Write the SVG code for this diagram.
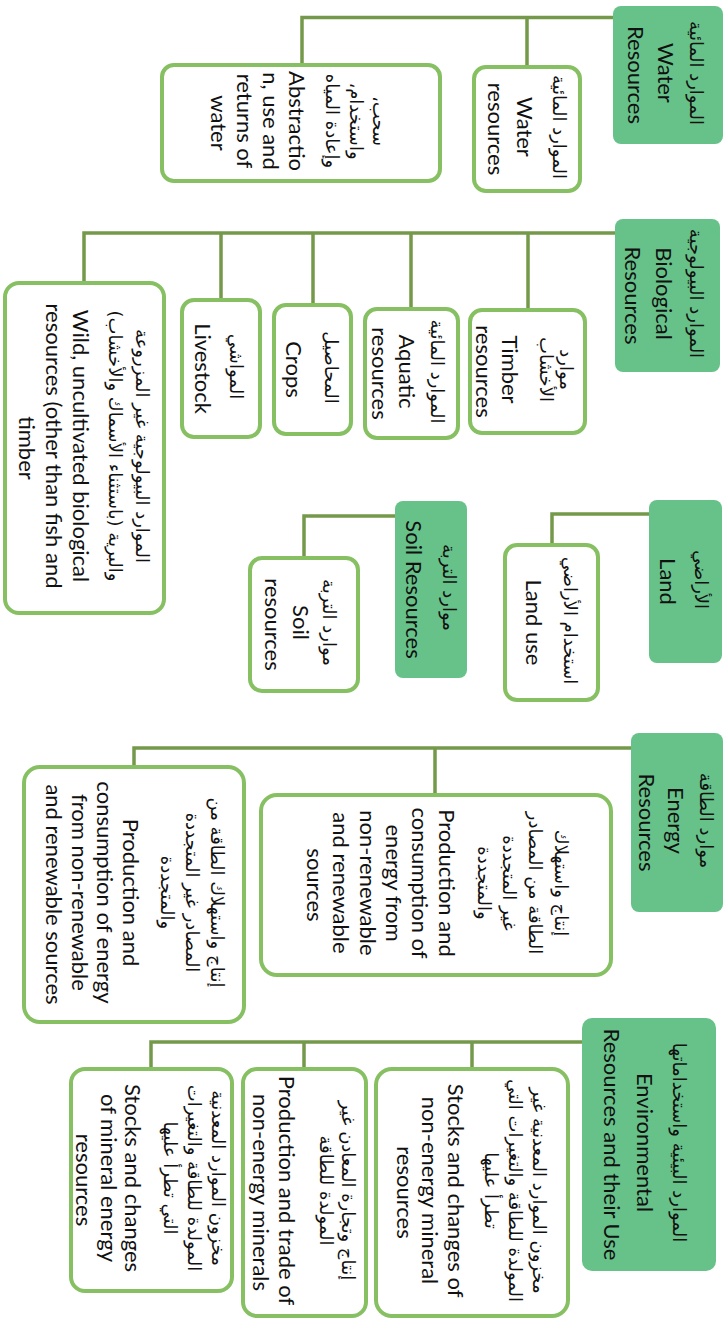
<svg xmlns="http://www.w3.org/2000/svg" width="726" height="1322" viewBox="0 0 726 1322">
  <style>
    .head { fill: #67c28a; }
    .box { fill: #ffffff; stroke: #86c062; stroke-width: 4; }
    .conn path { fill: none; stroke: #75994a; stroke-width: 3.5; }
    text { fill: #111111; text-anchor: middle; dominant-baseline: central; }
    .en { font-family: Lato, "Liberation Sans", sans-serif; font-size: 22px; }
    .ar { font-family: "DejaVu Sans", "Noto Sans", sans-serif; font-size: 18px; }
  </style>

  <!-- connectors: parent bar plus drops to each child -->
  <g id="connectors" class="conn">
    <path d="M613,17.5 H302 V63 M527,17.5 V65"/>
    <path d="M615,233 H84 V281 M528,233 V308 M411,233 V307 M313,233 V303 M221,233 V298"/>
    <path d="M649,514 H552 V543"/>
    <path d="M395,516 H304 V556"/>
    <path d="M631,748 H134 V765 M435,748 V793"/>
    <path d="M582,1042 H151 V1067 M304,1042 V1067 M472,1042 V1067"/>
  </g>

  <!-- Water -->
  <g id="water-header">
    <rect class="head" x="613" y="6" width="110" height="138" rx="8"/>
    <text transform="rotate(90)">
      <tspan class="ar" x="75" y="-697">الموارد المائية</tspan>
      <tspan class="en" x="75" y="-667">Water</tspan>
      <tspan class="en" x="75" y="-637">Resources</tspan>
    </text>
  </g>
  <g id="water-resources">
    <rect class="box" x="474" y="67" width="106" height="124" rx="12"/>
    <text transform="rotate(90)">
      <tspan class="ar" x="129" y="-560">الموارد المائية</tspan>
      <tspan class="en" x="129" y="-526">Water</tspan>
      <tspan class="en" x="129" y="-497">resources</tspan>
    </text>
  </g>
  <g id="water-abstraction">
    <rect class="box" x="162" y="65" width="278" height="116" rx="12"/>
    <text transform="rotate(90)">
      <tspan class="ar" x="123" y="-380">سحب،&#x200F;</tspan>
      <tspan class="ar" x="123" y="-357">واستخدام،&#x200F;</tspan>
      <tspan class="ar" x="123" y="-333">وإعادة المياه</tspan>
      <tspan class="en" x="123" y="-298">Abstractio</tspan>
      <tspan class="en" x="123" y="-272">n, use and</tspan>
      <tspan class="en" x="123" y="-246">returns of</tspan>
      <tspan class="en" x="123" y="-220">water</tspan>
    </text>
  </g>

  <!-- Biological -->
  <g id="bio-header">
    <rect class="head" x="615" y="219" width="105" height="153" rx="8"/>
    <text transform="rotate(90)">
      <tspan class="ar" x="295.5" y="-697">الموارد البيولوجية</tspan>
      <tspan class="en" x="295.5" y="-665">Biological</tspan>
      <tspan class="en" x="295.5" y="-634">Resources</tspan>
    </text>
  </g>
  <g id="bio-timber">
    <rect class="box" x="470" y="310" width="115" height="123" rx="12"/>
    <text transform="rotate(90)">
      <tspan class="ar" x="371.5" y="-567">موارد</tspan>
      <tspan class="ar" x="371.5" y="-547">الأخشاب</tspan>
      <tspan class="en" x="371.5" y="-511">Timber</tspan>
      <tspan class="en" x="371.5" y="-485">resources</tspan>
    </text>
  </g>
  <g id="bio-aquatic">
    <rect class="box" x="365" y="309" width="93" height="129" rx="12"/>
    <text transform="rotate(90)">
      <tspan class="ar" x="373.5" y="-438">الموارد المائية</tspan>
      <tspan class="en" x="373.5" y="-408">Aquatic</tspan>
      <tspan class="en" x="373.5" y="-381">resources</tspan>
    </text>
  </g>
  <g id="bio-crops">
    <rect class="box" x="274" y="305" width="77" height="129" rx="12"/>
    <text transform="rotate(90)">
      <tspan class="ar" x="369.5" y="-332">المحاصيل</tspan>
      <tspan class="en" x="369.5" y="-295">Crops</tspan>
    </text>
  </g>
  <g id="bio-livestock">
    <rect class="box" x="182" y="300" width="78" height="137" rx="12"/>
    <text transform="rotate(90)">
      <tspan class="ar" x="368.5" y="-237">المواشي</tspan>
      <tspan class="en" x="368.5" y="-204">Livestock</tspan>
    </text>
  </g>
  <g id="bio-wild">
    <rect class="box" x="5" y="283" width="159" height="330" rx="14"/>
    <text transform="rotate(90)">
      <tspan class="ar" x="448" y="-143">الموارد البيولوجية غير المزروعة</tspan>
      <tspan class="ar" x="448" y="-116">&#x200F;والبرية (باستثناء الأسماك والأخشاب)&#x200F;</tspan>
      <tspan class="en" x="448" y="-82">Wild, uncultivated biological</tspan>
      <tspan class="en" x="448" y="-55">resources (other than fish and</tspan>
      <tspan class="en" x="448" y="-28">timber</tspan>
    </text>
  </g>

  <!-- Land -->
  <g id="land-header">
    <rect class="head" x="649" y="500" width="73" height="163" rx="8"/>
    <text transform="rotate(90)">
      <tspan class="ar" x="581.5" y="-702">الأراضي</tspan>
      <tspan class="en" x="581.5" y="-669">Land</tspan>
    </text>
  </g>
  <g id="land-use">
    <rect class="box" x="505" y="545" width="93" height="155" rx="12"/>
    <text transform="rotate(90)">
      <tspan class="ar" x="622.5" y="-571">استخدام الأراضي</tspan>
      <tspan class="en" x="622.5" y="-535">Land use</tspan>
    </text>
  </g>

  <!-- Soil -->
  <g id="soil-header">
    <rect class="head" x="395" y="501" width="72" height="177" rx="8"/>
    <text transform="rotate(90)">
      <tspan class="ar" x="589.5" y="-450">موارد التربة</tspan>
      <tspan class="en" x="589.5" y="-415">Soil Resources</tspan>
    </text>
  </g>
  <g id="soil-resources">
    <rect class="box" x="250" y="558" width="108" height="133" rx="12"/>
    <text transform="rotate(90)">
      <tspan class="ar" x="624.5" y="-330">موارد التربة</tspan>
      <tspan class="en" x="624.5" y="-302">Soil</tspan>
      <tspan class="en" x="624.5" y="-274">resources</tspan>
    </text>
  </g>

  <!-- Energy -->
  <g id="energy-header">
    <rect class="head" x="631" y="733" width="92" height="179" rx="8"/>
    <text transform="rotate(90)">
      <tspan class="ar" x="822.5" y="-707">موارد الطاقة</tspan>
      <tspan class="en" x="822.5" y="-677">Energy</tspan>
      <tspan class="en" x="822.5" y="-648">Resources</tspan>
    </text>
  </g>
  <g id="energy-a">
    <rect class="box" x="261" y="795" width="350" height="180" rx="16"/>
    <text transform="rotate(90)">
      <tspan class="ar" x="885" y="-562">إنتاج واستهلاك</tspan>
      <tspan class="ar" x="885" y="-536">الطاقة من المصادر</tspan>
      <tspan class="ar" x="885" y="-510">غير المتجددة</tspan>
      <tspan class="ar" x="885" y="-485">والمتجددة</tspan>
      <tspan class="en" x="885" y="-448">Production and</tspan>
      <tspan class="en" x="885" y="-421">consumption of</tspan>
      <tspan class="en" x="885" y="-395">energy from</tspan>
      <tspan class="en" x="885" y="-369">non-renewable</tspan>
      <tspan class="en" x="885" y="-342">and renewable</tspan>
      <tspan class="en" x="885" y="-316">sources</tspan>
    </text>
  </g>
  <g id="energy-b">
    <rect class="box" x="24" y="767" width="220" height="255" rx="16"/>
    <text transform="rotate(90)">
      <tspan class="ar" x="894.5" y="-218">إنتاج واستهلاك الطاقة من</tspan>
      <tspan class="ar" x="894.5" y="-193">المصادر غير المتجددة</tspan>
      <tspan class="ar" x="894.5" y="-168">والمتجددة</tspan>
      <tspan class="en" x="894.5" y="-132">Production and</tspan>
      <tspan class="en" x="894.5" y="-106">consumption of energy</tspan>
      <tspan class="en" x="894.5" y="-81">from non-renewable</tspan>
      <tspan class="en" x="894.5" y="-55">and renewable sources</tspan>
    </text>
  </g>

  <!-- Environmental resources -->
  <g id="env-header">
    <rect class="head" x="582" y="1018" width="134" height="253" rx="10"/>
    <text transform="rotate(90)">
      <tspan class="ar" x="1144.5" y="-680">الموارد البيئية واستخداماتها</tspan>
      <tspan class="en" x="1144.5" y="-646">Environmental</tspan>
      <tspan class="en" x="1144.5" y="-613">Resources and their Use</tspan>
    </text>
  </g>
  <g id="env-nonenergy-stocks">
    <rect class="box" x="376" y="1069" width="192" height="247" rx="16"/>
    <text transform="rotate(90)">
      <tspan class="ar" x="1192.5" y="-540">مخزون الموارد المعدنية غير</tspan>
      <tspan class="ar" x="1192.5" y="-516">المولدة للطاقة والتغيرات التي</tspan>
      <tspan class="ar" x="1192.5" y="-492">تطرأ عليها</tspan>
      <tspan class="en" x="1192.5" y="-457">Stocks and changes of</tspan>
      <tspan class="en" x="1192.5" y="-431">non-energy mineral</tspan>
      <tspan class="en" x="1192.5" y="-406">resources</tspan>
    </text>
  </g>
  <g id="env-nonenergy-trade">
    <rect class="box" x="243" y="1069" width="123" height="247" rx="14"/>
    <text transform="rotate(90)">
      <tspan class="ar" x="1192.5" y="-349">إنتاج وتجارة المعادن غير</tspan>
      <tspan class="ar" x="1192.5" y="-327">المولدة للطاقة</tspan>
      <tspan class="en" x="1192.5" y="-288">Production and trade of</tspan>
      <tspan class="en" x="1192.5" y="-262">non-energy minerals</tspan>
    </text>
  </g>
  <g id="env-energy-stocks">
    <rect class="box" x="71" y="1069" width="161" height="222" rx="14"/>
    <text transform="rotate(90)">
      <tspan class="ar" x="1180" y="-219">مخزون الموارد المعدنية</tspan>
      <tspan class="ar" x="1180" y="-195">المولدة للطاقة والتغيرات</tspan>
      <tspan class="ar" x="1180" y="-171">التي تطرأ عليها</tspan>
      <tspan class="en" x="1180" y="-134">Stocks and changes</tspan>
      <tspan class="en" x="1180" y="-110">of mineral energy</tspan>
      <tspan class="en" x="1180" y="-85">resources</tspan>
    </text>
  </g>
</svg>
